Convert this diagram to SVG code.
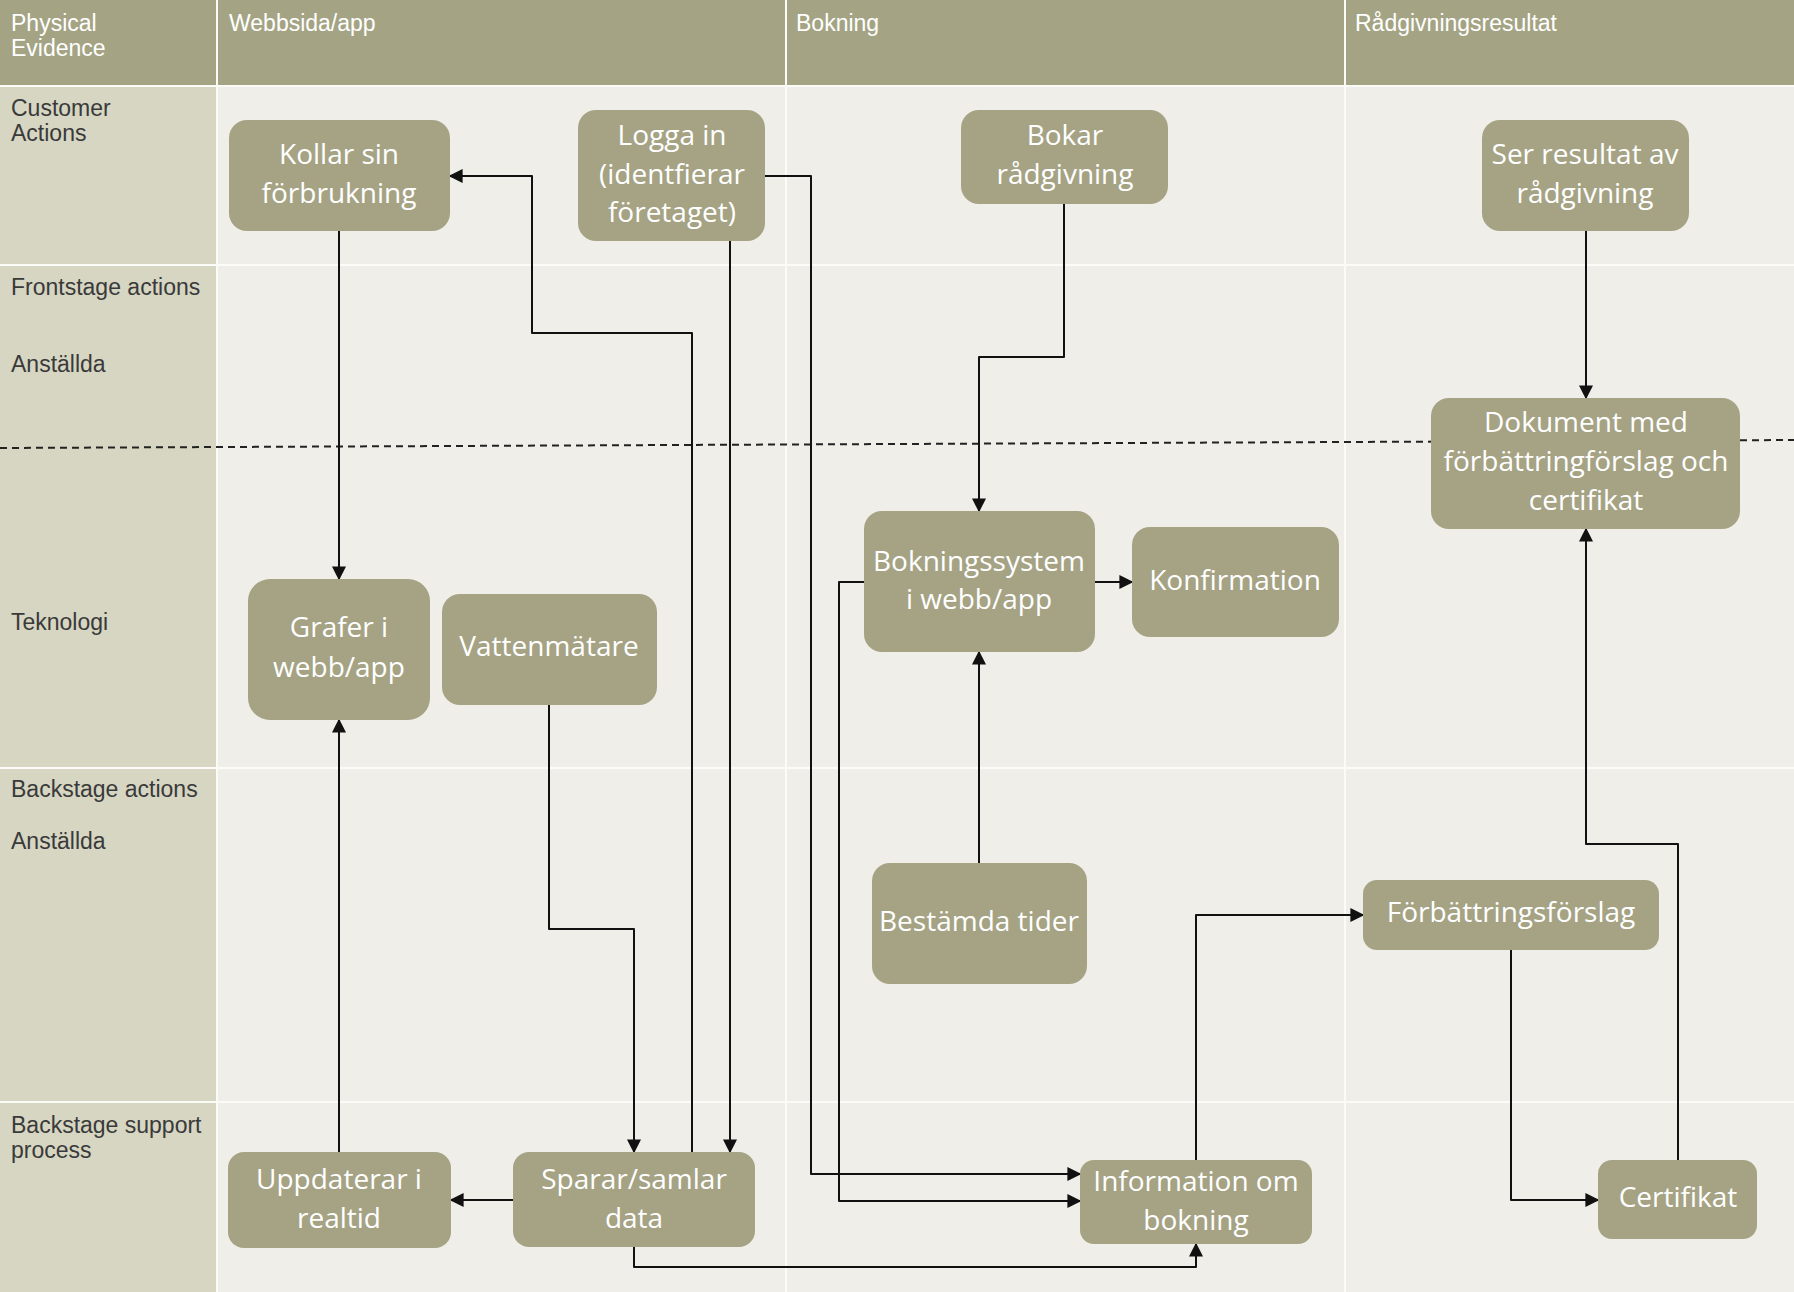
<svg xmlns="http://www.w3.org/2000/svg" width="1794" height="1292" viewBox="0 0 1794 1292">
<style>
.lane{font-family:"Liberation Sans",Arial,sans-serif;font-size:23px;fill:#ffffff}
.lbl{font-family:"Liberation Sans",Arial,sans-serif;font-size:23px;fill:#3a3a3a}
.box{fill:#a5a384}
.nt{font-family:"Open Sans","Noto Sans",sans-serif;font-size:28px;fill:#ffffff;text-anchor:middle}
.sep{stroke:#fbfbf8;stroke-width:2}
.c{fill:none;stroke:#111111;stroke-width:2;stroke-linejoin:round;marker-end:url(#ah)}
</style>
<defs>
<marker id="ah" viewBox="0 0 10 10" refX="9" refY="5" markerWidth="7" markerHeight="7" orient="auto" markerUnits="strokeWidth">
<path d="M0,0 L10,5 L0,10 z" fill="#111111"/>
</marker>
</defs>
<g id="background">
<rect x="0" y="0" width="1794" height="1292" fill="#efeee8"/>
<rect x="0" y="0" width="217" height="1292" fill="#d6d6c2"/>
<rect x="0" y="0" width="1794" height="85" fill="#a4a484"/>
<line class="sep" x1="217" y1="0" x2="217" y2="1292"/>
<line class="sep" x1="786" y1="0" x2="786" y2="1292"/>
<line class="sep" x1="1345" y1="0" x2="1345" y2="1292"/>
<line class="sep" x1="0" y1="86" x2="1794" y2="86"/>
<line class="sep" x1="0" y1="265" x2="1794" y2="265"/>
<line class="sep" x1="0" y1="768" x2="1794" y2="768"/>
<line class="sep" x1="0" y1="1102" x2="1794" y2="1102"/>
<line x1="0" y1="448" x2="1794" y2="440" stroke="#222222" stroke-width="2" stroke-dasharray="7,5"/>
</g>
<g id="headers">
<text class="lane" x="11" y="31">Physical</text>
<text class="lane" x="11" y="56">Evidence</text>
<text class="lane" x="229" y="31">Webbsida/app</text>
<text class="lane" x="796" y="31">Bokning</text>
<text class="lane" x="1355" y="31">Rådgivningsresultat</text>
</g>
<g id="row-labels">
<text class="lbl" x="11" y="116">Customer</text>
<text class="lbl" x="11" y="141">Actions</text>
<text class="lbl" x="11" y="295">Frontstage actions</text>
<text class="lbl" x="11" y="372">Anställda</text>
<text class="lbl" x="11" y="630">Teknologi</text>
<text class="lbl" x="11" y="797">Backstage actions</text>
<text class="lbl" x="11" y="849">Anställda</text>
<text class="lbl" x="11" y="1133">Backstage support</text>
<text class="lbl" x="11" y="1158">process</text>
</g>
<g id="connectors">
<path class="c" d="M339,231 V579"/>
<path class="c" d="M339,1152 V720"/>
<path class="c" d="M692,1152 V333 H532 V176 H450"/>
<path class="c" d="M730,241 V1152"/>
<path class="c" d="M549,705 V929 H634 V1152"/>
<path class="c" d="M513,1200 H451"/>
<path class="c" d="M634,1247 V1267 H1196 V1244"/>
<path class="c" d="M765,176 H811 V1174 H1080"/>
<path class="c" d="M864,582 H839 V1201 H1080"/>
<path class="c" d="M1064,204 V357 H979 V511"/>
<path class="c" d="M979,863 V652"/>
<path class="c" d="M1095,582 H1132"/>
<path class="c" d="M1586,231 V398"/>
<path class="c" d="M1196,1160 V915 H1363"/>
<path class="c" d="M1511,950 V1200 H1598"/>
<path class="c" d="M1678,1160 V844 H1586 V529"/>
</g>
<g id="n-kollar"><rect class="box" x="229" y="120" width="221" height="111" rx="18"/><text class="nt" x="339" y="164">Kollar sin</text><text class="nt" x="339" y="203">förbrukning</text></g>
<g id="n-logga"><rect class="box" x="578" y="110" width="187" height="131" rx="18"/><text class="nt" x="672" y="145">Logga in</text><text class="nt" x="672" y="184">(identfierar</text><text class="nt" x="672" y="222">företaget)</text></g>
<g id="n-bokar"><rect class="box" x="961" y="110" width="207" height="94" rx="18"/><text class="nt" x="1065" y="145">Bokar</text><text class="nt" x="1065" y="184">rådgivning</text></g>
<g id="n-ser"><rect class="box" x="1482" y="120" width="207" height="111" rx="18"/><text class="nt" x="1585" y="164">Ser resultat av</text><text class="nt" x="1585" y="203">rådgivning</text></g>
<g id="n-dokument"><rect class="box" x="1431" y="398" width="309" height="131" rx="18"/><text class="nt" x="1586" y="432">Dokument med</text><text class="nt" x="1586" y="471">förbättringförslag och</text><text class="nt" x="1586" y="510">certifikat</text></g>
<g id="n-grafer"><rect class="box" x="248" y="579" width="182" height="141" rx="22"/><text class="nt" x="339" y="637">Grafer i</text><text class="nt" x="339" y="677">webb/app</text></g>
<g id="n-vatten"><rect class="box" x="442" y="594" width="215" height="111" rx="18"/><text class="nt" x="549" y="656">Vattenmätare</text></g>
<g id="n-bokningssystem"><rect class="box" x="864" y="511" width="231" height="141" rx="18"/><text class="nt" x="979" y="571">Bokningssystem</text><text class="nt" x="979" y="609">i webb/app</text></g>
<g id="n-konfirmation"><rect class="box" x="1132" y="527" width="207" height="110" rx="18"/><text class="nt" x="1235" y="590">Konfirmation</text></g>
<g id="n-bestamda"><rect class="box" x="872" y="863" width="215" height="121" rx="18"/><text class="nt" x="979" y="931">Bestämda tider</text></g>
<g id="n-forbattring"><rect class="box" x="1363" y="880" width="296" height="70" rx="14"/><text class="nt" x="1511" y="922">Förbättringsförslag</text></g>
<g id="n-uppdaterar"><rect class="box" x="228" y="1152" width="223" height="96" rx="16"/><text class="nt" x="339" y="1189">Uppdaterar i</text><text class="nt" x="339" y="1228">realtid</text></g>
<g id="n-sparar"><rect class="box" x="513" y="1152" width="242" height="95" rx="16"/><text class="nt" x="634" y="1189">Sparar/samlar</text><text class="nt" x="634" y="1228">data</text></g>
<g id="n-information"><rect class="box" x="1080" y="1160" width="232" height="84" rx="14"/><text class="nt" x="1196" y="1191">Information om</text><text class="nt" x="1196" y="1230">bokning</text></g>
<g id="n-certifikat"><rect class="box" x="1598" y="1160" width="159" height="79" rx="14"/><text class="nt" x="1678" y="1207">Certifikat</text></g>
</svg>
